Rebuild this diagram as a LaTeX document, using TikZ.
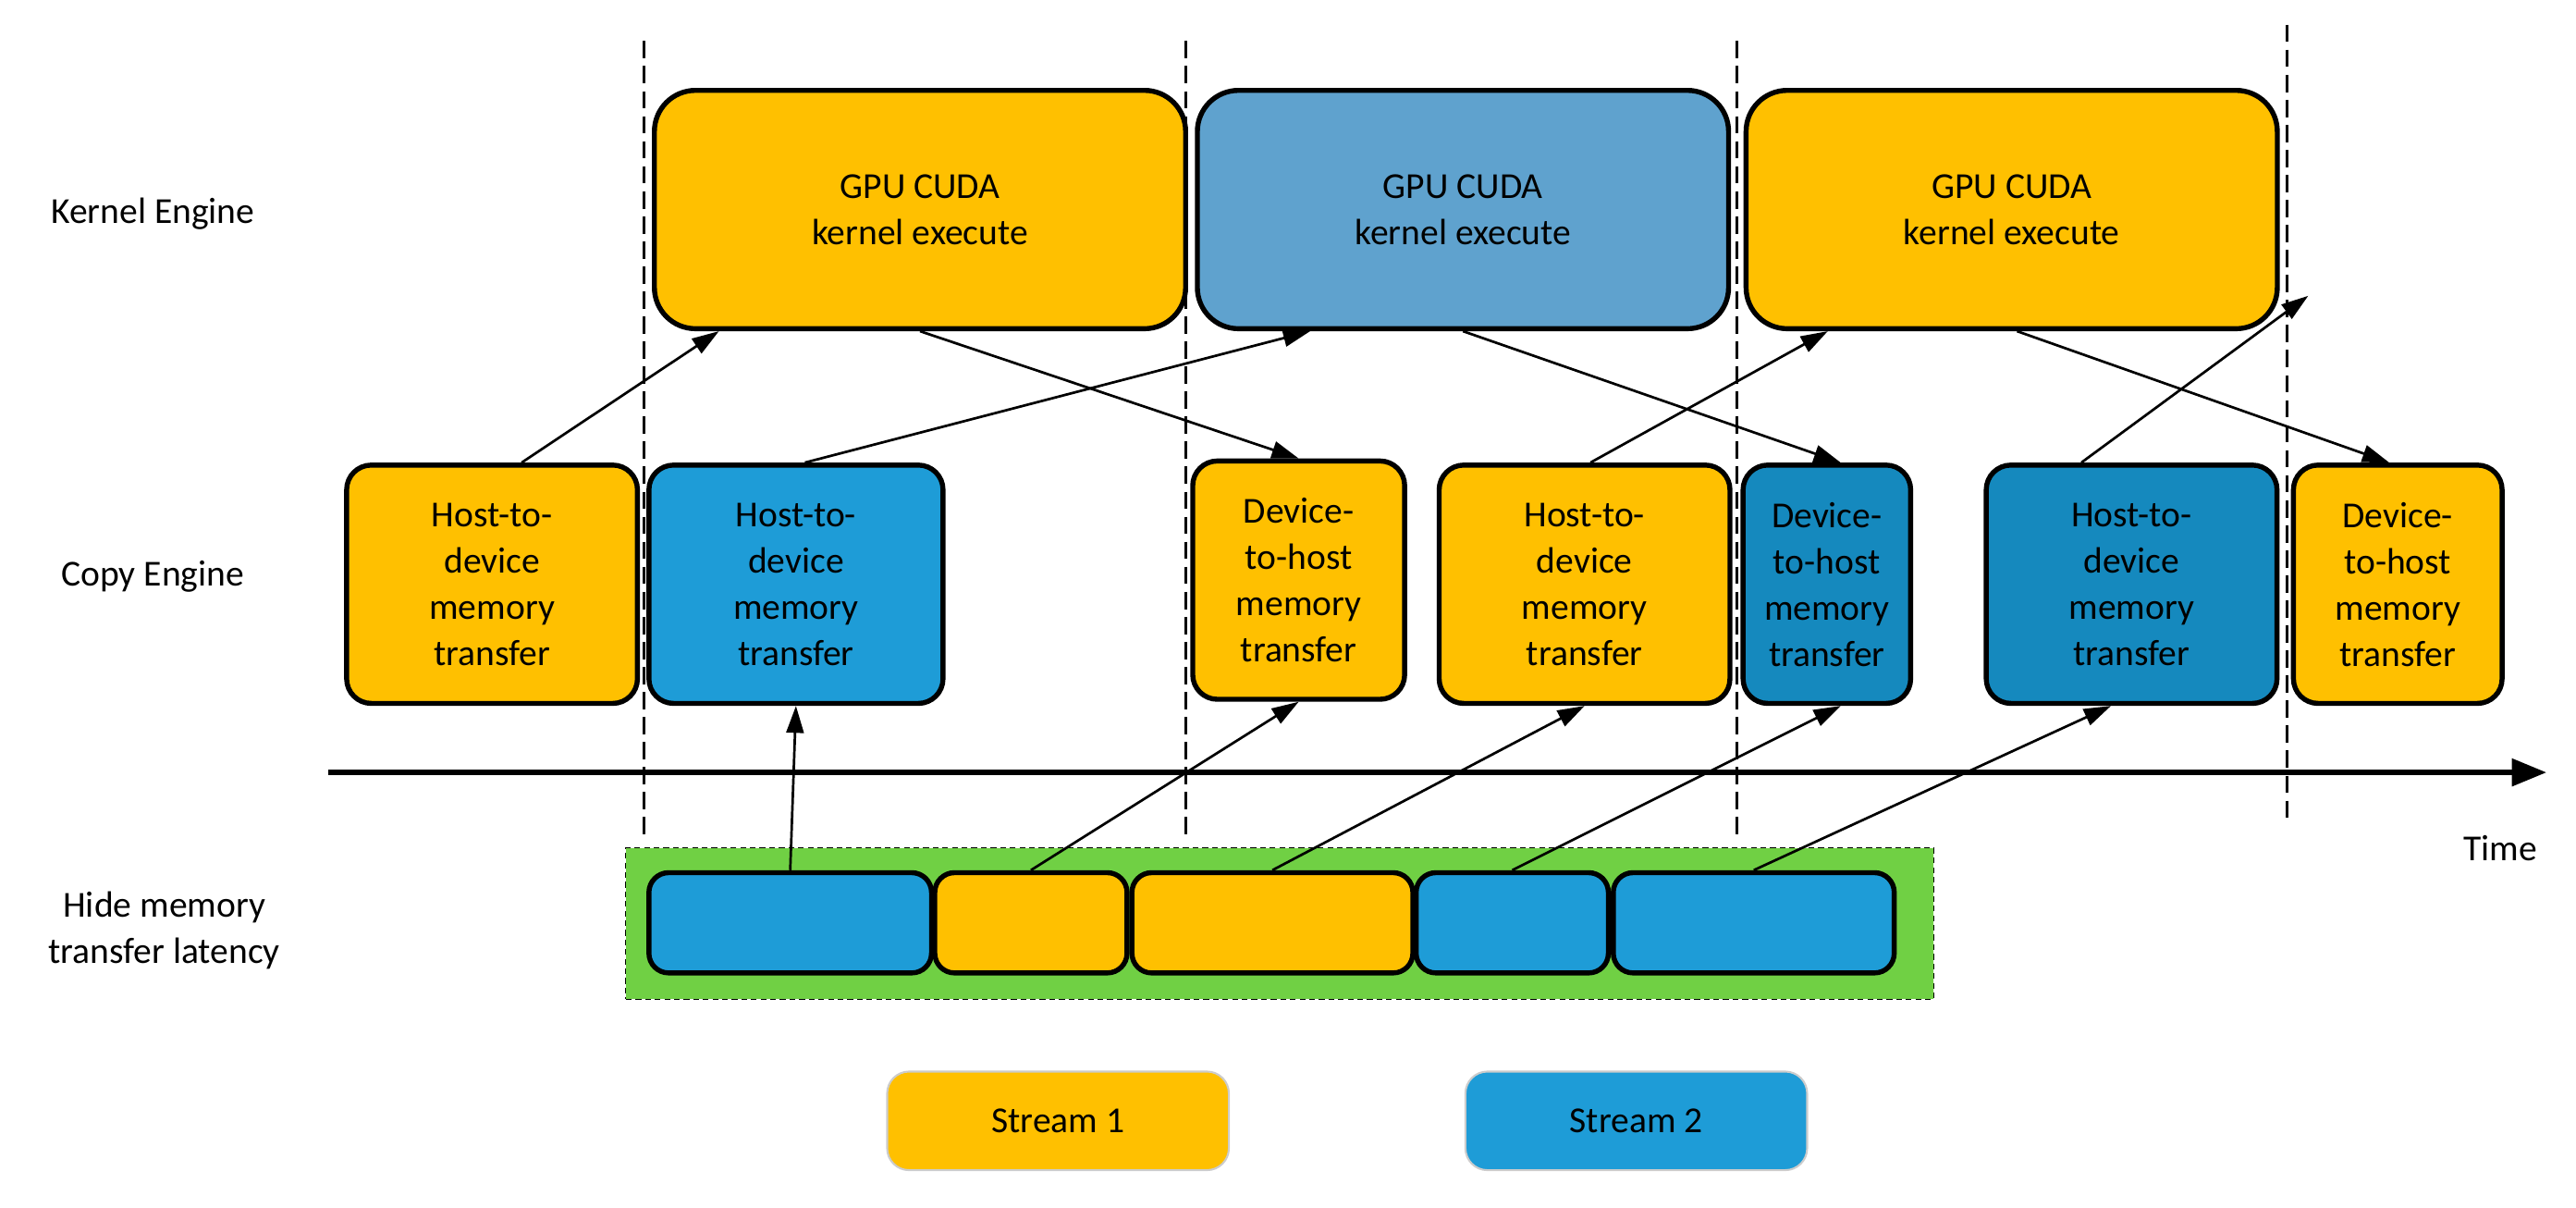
\documentclass[tikz,border=0pt]{standalone}
\usepackage{fontspec}
\setmainfont{Carlito}
\usetikzlibrary{arrows.meta,calc,positioning}
\definecolor{yel}{HTML}{FFC000}
\definecolor{blu}{HTML}{1E9CD7}
\definecolor{kblu}{HTML}{5FA2CE}
\definecolor{dblu}{HTML}{1589BE}
\definecolor{grn}{HTML}{70D044}
\tikzset{
    box/.style={draw=black, line width=2.6pt, inner sep=0pt, align=center,
        font=\fontsize{19}{24}\selectfont},
    kernel/.style={box, rounded corners=0.75cm, minimum width=9.7cm, minimum height=4.35cm},
    copy/.style={box, rounded corners=0.45cm, minimum height=4.35cm},
    small/.style={box, rounded corners=0.36cm, minimum height=1.83cm},
    legend/.style={draw=black!20, line width=1pt, rounded corners=0.4cm, inner sep=0pt,
        minimum width=6.24cm, minimum height=1.8cm, font=\fontsize{19}{24}\selectfont},
    label/.style={align=center, font=\fontsize{19}{24}\selectfont},
    arr/.style={line width=1.3pt, -{Triangle[length=14pt,width=9pt]}},
    sep/.style={line width=1.4pt, dash pattern=on 9pt off 4pt},
}
\begin{document}
\begin{tikzpicture}[x=0.03cm, y=-0.03cm]
	\useasboundingbox (0,0) rectangle (1568,735);
	% row labels
	\node[label] (lk) at (93,130) {Kernel Engine};
	\node[label] (lc) at (93,351) {Copy Engine};
	\node[label] (lh) at (100,566) {Hide memory\\transfer latency};
	% time axis and separators
	\coordinate (t0) at (200,470);
	\coordinate (t1) at (1550,470);
	\draw[line width=2.6pt, -{Triangle[length=18pt,width=14pt]}] (t0) -- (t1);
	\node[label] (time) at (1522,516) {Time};
	\foreach \x/\a/\b in {392/25/510, 722/25/510, 1057/25/510, 1392/15/500}
		\draw[sep] (\x,\a) -- (\x,\b);
	% kernel engine
	\node[kernel, fill=yel] (K1) at (560,127.5) {GPU CUDA\\kernel execute};
	\node[kernel, fill=kblu] (K2) at (890.5,127.5) {GPU CUDA\\kernel execute};
	\node[kernel, fill=yel] (K3) at (1224.5,127.5) {GPU CUDA\\kernel execute};
	% copy engine
	\node[copy, fill=yel, minimum width=5.31cm] (A) at (299.5,355.5) {Host-to-\\device\\memory\\transfer};
	\node[copy, fill=blu, minimum width=5.37cm] (B) at (484.5,355.5) {Host-to-\\device\\memory\\transfer};
	\node[copy, fill=yel, minimum width=3.87cm] (C) at (790.5,353) {Device-\\to-host\\memory\\transfer};
	\node[copy, fill=yel, minimum width=5.31cm] (D) at (964.5,355.5) {Host-to-\\device\\memory\\transfer};
	\node[copy, fill=dblu, minimum width=3.06cm] (E) at (1112,355.5) {Device-\\to-host\\memory\\transfer};
	\node[copy, fill=dblu, minimum width=5.31cm] (F) at (1297.5,355.5) {Host-to-\\device\\memory\\transfer};
	\node[copy, fill=yel, minimum width=3.81cm] (G) at (1459.5,355.5) {Device-\\to-host\\memory\\transfer};
	% hidden latency row
	\node[draw=black, fill=grn, line width=0.5pt, densely dashed, inner sep=0pt,
		minimum width=23.88cm, minimum height=2.76cm] (hide) at (779,562) {};
	\node[small, fill=blu, minimum width=5.16cm] (s1) at (481,561.5) {};
	\node[small, fill=yel, minimum width=3.51cm] (s2) at (627.5,561.5) {};
	\node[small, fill=yel, minimum width=5.13cm] (s3) at (774.5,561.5) {};
	\node[small, fill=blu, minimum width=3.51cm] (s4) at (920.5,561.5) {};
	\node[small, fill=blu, minimum width=5.13cm] (s5) at (1067.5,561.5) {};
	% legend
	\node[legend, fill=yel] (st1) at (644,682) {Stream 1};
	\node[legend, fill=blu] (st2) at (996,682) {Stream 2};
	% copy -> kernel -> copy
	\coordinate (fend) at (1405,180);
	\draw[arr] ($(A.north west)!.6!(A.north east)$) -- ($(K1.south west)!.125!(K1.south east)$);
	\draw[arr] ($(B.north west)!.53!(B.north east)$) -- ($(K2.south west)!.215!(K2.south east)$);
	\draw[arr] (K1.south) -- (C.north);
	\draw[arr] ($(D.north west)!.52!(D.north east)$) -- ($(K3.south west)!.157!(K3.south east)$);
	\draw[arr] (K2.south) -- ($(E.north west)!.58!(E.north east)$);
	\draw[arr] ($(F.north west)!.33!(F.north east)$) -- (fend);
	\draw[arr] ($(K3.south west)!.51!(K3.south east)$) -- ($(G.north west)!.46!(G.north east)$);
	% streams -> copy engine
	\draw[arr] (s1.north) -- (B.south);
	\draw[arr] (s2.north) -- (C.south);
	\draw[arr] (s3.north) -- (D.south);
	\draw[arr] (s4.north) -- ($(E.south west)!.58!(E.south east)$);
	\draw[arr] (s5.north) -- ($(F.south west)!.43!(F.south east)$);
\end{tikzpicture}
\end{document}
